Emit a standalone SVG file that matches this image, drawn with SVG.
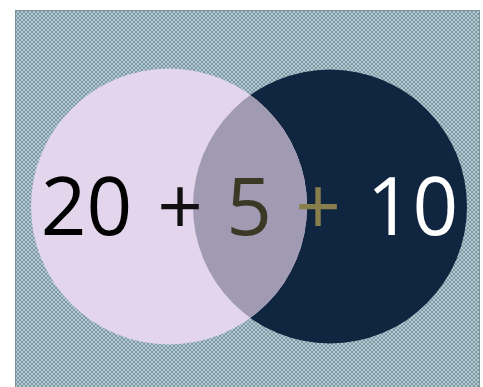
<svg xmlns="http://www.w3.org/2000/svg" width="483" height="387" viewBox="0 0 483 387">
  <defs>
    <pattern id="hatch" width="4" height="4" patternUnits="userSpaceOnUse">
      <rect width="4" height="4" fill="#b2cbd3"/>
      <path d="M0,0 L4,4 M4,0 L0,4" stroke="#748c97" stroke-width="0.8"/>
    </pattern>
    <clipPath id="rightClip">
      <circle cx="330" cy="206.5" r="137"/>
    </clipPath>
    <style>
      .num { font-family: "Open Sans", "Liberation Sans", sans-serif; font-size: 80px; text-anchor: middle; font-weight: 500; }
    </style>
  </defs>
  <rect width="483" height="387" fill="#ffffff"/>
  <rect id="background" x="15.5" y="10.5" width="464" height="380" fill="url(#hatch)" stroke="#7d8f99" stroke-width="1"/>
  <g id="set-right">
    <circle cx="330" cy="206.5" r="137" fill="#10253f"/>
  </g>
  <g id="set-left">
    <circle cx="169" cy="206.5" r="138" fill="#e2d5ec"/>
  </g>
  <g id="intersection">
    <circle cx="169" cy="206.5" r="138" fill="#a09bb2" clip-path="url(#rightClip)"/>
  </g>
  <g id="labels">
    <text class="num" x="86.5" y="235" fill="#000000">20</text>
    <text class="num" x="180" y="235" fill="#111111">+</text>
    <text class="num" x="249" y="235" fill="#3b3925">5</text>
    <text class="num" x="318" y="235" fill="#877e4c">+</text>
    <text class="num" x="412.5" y="235" fill="#ffffff">10</text>
  </g>
</svg>
